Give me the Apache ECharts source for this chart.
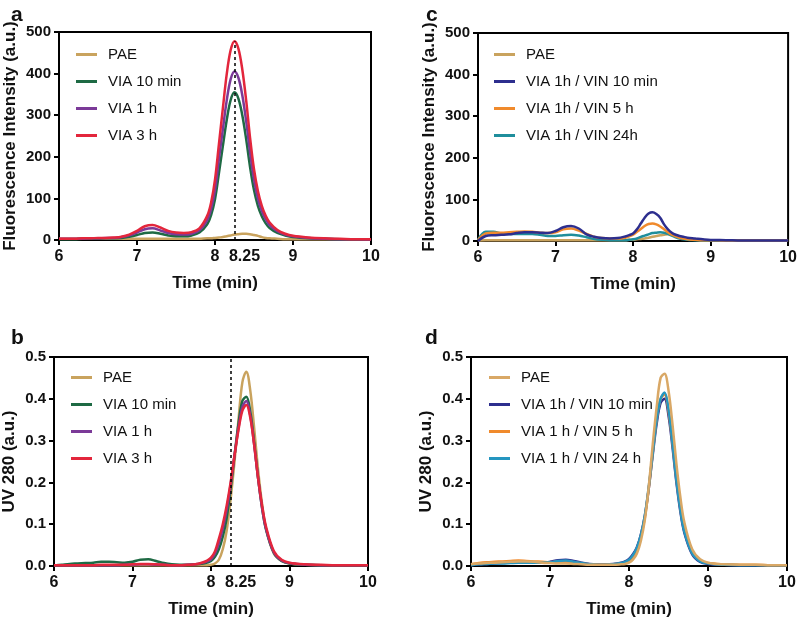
<!DOCTYPE html>
<html>
<head>
<meta charset="utf-8">
<script src="https://cdn.jsdelivr.net/npm/echarts@6/dist/echarts.min.js"></script>
<style>html,body{margin:0;padding:0;background:#fff}#chart{width:800px;height:620px}</style>
</head>
<body>
<div id="chart"></div>
<script>
// ---------- DATA ----------
const time = [6.0, 6.1, 6.2, 6.3, 6.4, 6.5, 6.6, 6.7, 6.8, 6.9, 7.0, 7.1, 7.2, 7.3, 7.4, 7.5, 7.6, 7.7, 7.8, 7.9, 7.95, 8.0, 8.05, 8.1, 8.15, 8.2, 8.25, 8.3, 8.35, 8.4, 8.45, 8.5, 8.55, 8.6, 8.65, 8.7, 8.8, 8.9, 9.0, 9.2, 9.4, 9.6, 9.8, 10.0];

// Panel a: fluorescence
const aPAE    = [3,3,3,3,3,3,3,3,3,3,3,3,3,3,3,3,3,3,3,4,4,5,6,7,9,11,13,14,15,15,14,12,10,7,5,4,3,2,2,2,2,2,2,2];
const aVIA10m = [2,2,2,3,3,3,4,4,5,8,12,17,18,15,11,9,9,11,18,38,60,98,160,225,288,336,355,340,300,242,175,120,82,57,40,29,17,11,7,4,3,2,1,1];
const aVIA1h  = [3,3,3,3,4,4,5,5,7,11,18,26,28,23,17,14,13,15,23,48,75,120,195,265,335,386,405,390,348,285,210,146,100,70,50,36,21,13,9,5,3,2,2,1];
const aVIA3h  = [3,3,3,4,4,5,5,6,8,13,22,33,36,30,22,18,17,19,28,58,90,145,230,315,398,456,478,460,410,335,245,170,118,82,58,42,24,15,10,6,4,3,2,2];

// Panel c: fluorescence
const cPAE    = [1,2,2,2,2,2,2,2,2,2,2,2,2,2,2,2,2,2,2,2,3,3,4,5,6,8,10,12,14,15,16,15,13,10,7,5,3,2,2,1,1,1,1,1];
const cVIN10m = [0,12,14,15,16,19,21,21,20,19,24,33,36,30,16,10,7,6,7,11,14,18,28,42,56,66,69,65,56,40,28,20,15,12,10,8,6,4,2.5,2,1,1,1,1];
const cVIN5h  = [2,18,20,20,21,22,23,22,20,19,21,28,30,25,17,10,7,6,6,8,11,15,22,29,36,41,42,40,35,28,21,15,11,8,6,4,3,2,2,1,1,1,1,1];
const cVIN24h = [3,22,22,18,17,17,17,17,15,12,12,14,15,13,9,5,3,2,2,2,3,4,6,10,13,16,19,20,21,20,17,13,9,6,4,3,2,1,1,1,1,1,1,1];

// Panel b: UV 280
const bPAE    = [0.002,0.002,0.002,0.002,0.002,0.002,0.002,0.002,0.002,0.002,0.002,0.002,0.002,0.002,0.002,0.002,0.002,0.002,0.002,0.002,0.002,0.003,0.006,0.015,0.04,0.085,0.16,0.25,0.35,0.44,0.465,0.42,0.33,0.23,0.15,0.09,0.03,0.012,0.006,0.003,0.002,0.002,0.002,0.002];
const bVIA10m = [0.001,0.003,0.005,0.006,0.007,0.008,0.010,0.010,0.009,0.008,0.010,0.015,0.016,0.012,0.007,0.004,0.003,0.003,0.004,0.006,0.008,0.012,0.022,0.04,0.07,0.115,0.185,0.265,0.34,0.395,0.405,0.37,0.295,0.21,0.14,0.088,0.032,0.012,0.006,0.003,0.002,0.002,0.001,0.001];
const bVIA1h  = [0.002,0.002,0.002,0.002,0.002,0.002,0.002,0.002,0.002,0.003,0.003,0.004,0.004,0.003,0.003,0.002,0.002,0.003,0.004,0.008,0.011,0.016,0.03,0.055,0.09,0.135,0.195,0.265,0.33,0.38,0.395,0.36,0.29,0.21,0.14,0.09,0.033,0.013,0.007,0.003,0.002,0.002,0.002,0.002];
const bVIA3h  = [0.002,0.002,0.002,0.002,0.002,0.002,0.003,0.003,0.003,0.003,0.004,0.005,0.005,0.004,0.003,0.002,0.002,0.003,0.004,0.009,0.013,0.02,0.035,0.065,0.10,0.145,0.20,0.265,0.325,0.372,0.385,0.355,0.29,0.21,0.145,0.095,0.036,0.015,0.008,0.004,0.003,0.002,0.002,0.002];

// Panel d: UV 280
const dPAE    = [0.004,0.006,0.007,0.008,0.009,0.010,0.011,0.011,0.010,0.008,0.007,0.006,0.006,0.005,0.004,0.003,0.003,0.003,0.003,0.004,0.005,0.008,0.015,0.03,0.06,0.11,0.19,0.29,0.38,0.45,0.46,0.42,0.34,0.245,0.165,0.105,0.04,0.016,0.008,0.004,0.003,0.003,0.002,0.002];
const dVIN10m = [0.002,0.004,0.005,0.006,0.007,0.008,0.009,0.009,0.008,0.008,0.010,0.014,0.015,0.012,0.008,0.005,0.004,0.004,0.005,0.008,0.011,0.017,0.028,0.045,0.075,0.12,0.185,0.265,0.34,0.39,0.40,0.36,0.285,0.20,0.13,0.08,0.028,0.010,0.005,0.003,0.002,0.002,0.002,0.002];
const dVIN5h  = [0.004,0.007,0.009,0.010,0.011,0.012,0.013,0.012,0.011,0.010,0.009,0.010,0.010,0.009,0.006,0.004,0.003,0.003,0.004,0.006,0.008,0.012,0.022,0.04,0.07,0.115,0.185,0.27,0.35,0.40,0.41,0.37,0.295,0.21,0.14,0.088,0.032,0.013,0.007,0.004,0.003,0.003,0.002,0.002];
const dVIN24h = [0.002,0.004,0.005,0.006,0.006,0.007,0.008,0.008,0.008,0.008,0.009,0.012,0.013,0.010,0.007,0.004,0.003,0.003,0.004,0.007,0.010,0.015,0.026,0.044,0.074,0.12,0.19,0.27,0.35,0.40,0.415,0.375,0.295,0.205,0.135,0.083,0.03,0.011,0.006,0.003,0.002,0.002,0.002,0.002];

const xTicks = [6, 7, 8, 9, 10];
const xLabelsMarked = [6, 7, 8, 8.25, 9, 10];
const markTime = 8.25;
const markTopA = 478;
const markTopB = 0.5;

const namesA = ['PAE', 'VIA 10 min', 'VIA 1 h', 'VIA 3 h'];
const namesC = ['PAE', 'VIA 1h / VIN 10 min', 'VIA 1h / VIN 5 h', 'VIA 1h / VIN 24h'];
const namesD = ['PAE', 'VIA 1h / VIN 10 min', 'VIA 1 h / VIN 5 h', 'VIA 1 h / VIN 24 h'];

// ---------- STYLE ----------
const FONT = '"Liberation Sans", Arial, Helvetica, sans-serif';
const colA = ['#c9a35e', '#1e6a44', '#7b3a98', '#e3263c'];
const colC = ['#c9a35e', '#2d2e8e', '#f08a2c', '#1f8e9c'];
const colB = ['#c9a35e', '#1e6a44', '#7b3a98', '#e3263c'];
const colD = ['#d9a866', '#2d2e8e', '#f08a2c', '#2596c0'];

const grids = [
  {left: 59, top: 32, width: 312, height: 208},
  {left: 478, top: 33, width: 312, height: 208},
  {left: 52, top: 357, width: 316, height: 209},
  {left: 471, top: 357, width: 316, height: 209}
].map(g => Object.assign({show: true, borderColor: '#000', borderWidth: 2, backgroundColor: 'transparent'}, g));

function xAxis(gi, marked) {
  return {
    type: 'value', gridIndex: gi, min: 6, max: 10, interval: 1,
    name: 'Time (min)', nameLocation: 'middle', nameGap: 35,
    nameTextStyle: {fontFamily: FONT, fontWeight: 'bold', fontSize: 17, color: '#111'},
    axisLine: {lineStyle: {color: '#000', width: 2}},
    axisTick: {show: true, length: 5, lineStyle: {color: '#000', width: 2}, customValues: xTicks},
    axisLabel: {
      fontFamily: FONT, fontWeight: 'bold', fontSize: 16, color: '#111', margin: 9,
      customValues: marked ? xLabelsMarked : xTicks,
      formatter: v => (v === markTime ? '{s|' + v + '}' : String(v)),
      rich: {s: {fontFamily: FONT, fontWeight: 'bold', fontSize: 16, color: '#111', padding: [0, 0, 0, 20]}}
    },
    splitLine: {show: false}
  };
}
function yAxis(gi, uv) {
  return {
    type: 'value', gridIndex: gi, min: 0, max: uv ? 0.5 : 500, interval: uv ? 0.1 : 100,
    name: uv ? 'UV 280 (a.u.)' : 'Fluorescence Intensity (a.u.)',
    nameLocation: 'middle', nameGap: uv ? 36 : 40, nameRotate: 90,
    nameTextStyle: {fontFamily: FONT, fontWeight: 'bold', fontSize: 17, color: '#111'},
    axisLine: {show: true, lineStyle: {color: '#000', width: 2}},
    axisTick: {show: true, length: 5, lineStyle: {color: '#000', width: 2}},
    axisLabel: {fontFamily: FONT, fontWeight: 'bold', fontSize: 15, color: '#111', margin: 8,
      formatter: v => uv ? v.toFixed(1) : String(v)},
    splitLine: {show: false}
  };
}
function line(name, arr, color, gi, extra) {
  return Object.assign({
    name: name, type: 'line', xAxisIndex: gi, yAxisIndex: gi,
    data: time.map((t, i) => [t, arr[i]]),
    showSymbol: false, smooth: 0.35, color: color,
    lineStyle: {color: color, width: 2.5}, z: 3
  }, extra || {});
}
function mark(top) {
  return {
    markLine: {
      silent: true, symbol: ['none', 'none'], label: {show: false},
      lineStyle: {color: '#000', type: [3, 3], width: 1.5},
      data: [[{coord: [markTime, 0]}, {coord: [markTime, top]}]]
    }
  };
}
function legend(names, colors, left, top) {
  return {
    orient: 'vertical', left: left, top: top, itemGap: 10,
    itemWidth: 21, itemHeight: 3, icon: 'rect', selectedMode: false,
    textStyle: {fontFamily: FONT, fontSize: 15, color: '#111', padding: [0, 0, 0, 6], lineHeight: 17},
    data: names.map((n, i) => ({name: n, itemStyle: {color: colors[i]}}))
  };
}

const series = [
  line(namesA[0], aPAE, colA[0], 0),
  line(namesA[1], aVIA10m, colA[1], 0),
  line(namesA[2], aVIA1h, colA[2], 0),
  line(namesA[3], aVIA3h, colA[3], 0, mark(markTopA)),

  line(namesC[0], cPAE, colC[0], 1),
  line(namesC[3], cVIN24h, colC[3], 1),
  line(namesC[2], cVIN5h, colC[2], 1),
  line(namesC[1], cVIN10m, colC[1], 1),

  line(namesA[0], bPAE, colB[0], 2),
  line(namesA[1], bVIA10m, colB[1], 2),
  line(namesA[2], bVIA1h, colB[2], 2),
  line(namesA[3], bVIA3h, colB[3], 2, mark(markTopB)),

  line(namesD[1], dVIN10m, colD[1], 3),
  line(namesD[2], dVIN5h, colD[2], 3),
  line(namesD[3], dVIN24h, colD[3], 3),
  line(namesD[0], dPAE, colD[0], 3)
];

const chart = echarts.init(document.getElementById('chart'), null, {renderer: 'canvas'});
chart.setOption({
  backgroundColor: '#fff',
  animation: false,
  grid: grids,
  xAxis: [xAxis(0, true), xAxis(1, false), xAxis(2, true), xAxis(3, false)],
  yAxis: [yAxis(0, false), yAxis(1, false), yAxis(2, true), yAxis(3, true)],
  legend: [
    legend(namesA, colA, 71, 41),
    legend(namesC, colC, 489, 41),
    legend(namesA, colB, 66, 364),
    legend(namesD, colD, 484, 364)
  ],
  title: [
    {text: 'a', left: 6, top: 0, textStyle: {fontFamily: FONT, fontWeight: 'bold', fontSize: 21, color: '#111'}},
    {text: 'c', left: 421, top: 0, textStyle: {fontFamily: FONT, fontWeight: 'bold', fontSize: 21, color: '#111'}},
    {text: 'b', left: 6, top: 323, textStyle: {fontFamily: FONT, fontWeight: 'bold', fontSize: 21, color: '#111'}},
    {text: 'd', left: 420, top: 323, textStyle: {fontFamily: FONT, fontWeight: 'bold', fontSize: 21, color: '#111'}}
  ],
  series: series
});
</script>
</body>
</html>
